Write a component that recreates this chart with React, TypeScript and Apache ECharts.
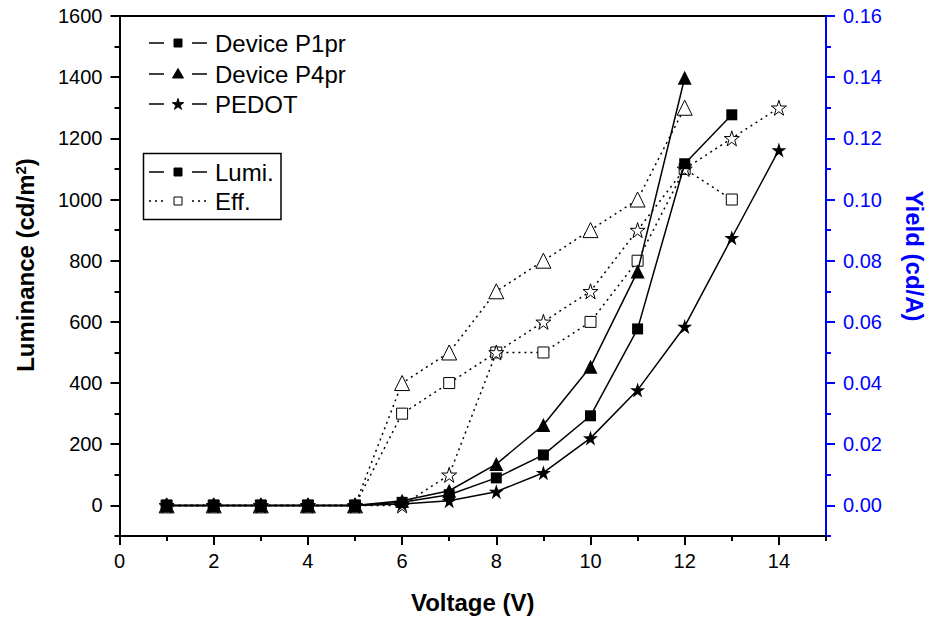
import React, { useEffect, useRef } from "react";
import * as echarts from "echarts";

// Applied voltage (V)
const voltage = [1, 2, 3, 4, 5, 6, 7, 8, 9, 10, 11, 12, 13, 14];

// Luminance (cd/m²)
const p1prLumi = [0, 0, 0, 0, 0, 10, 35, 90, 165, 293, 577, 1117, 1277];
const p4prLumi = [0, 0, 0, 0, 0, 15, 48, 135, 263, 453, 765, 1398];
const pedotLumi = [0, 0, 0, 0, 0, 5, 15, 45, 107, 220, 377, 585, 875, 1162];

// Yield (cd/A)
const p1prEff = [0, 0, 0, 0, 0, 0.03, 0.04, 0.05, 0.05, 0.06, 0.08, 0.11, 0.1];
const p4prEff = [0, 0, 0, 0, 0, 0.04, 0.05, 0.07, 0.08, 0.09, 0.1, 0.13];
const pedotEff = [0, 0, 0, 0, 0, 0, 0.01, 0.05, 0.06, 0.07, 0.09, 0.11, 0.12, 0.13];

// Axis ticks
const xMajorTicks = [0, 2, 4, 6, 8, 10, 12, 14];
const xMinorTicks = [1, 3, 5, 7, 9, 11, 13, 15];
const lumiMajorTicks = [0, 200, 400, 600, 800, 1000, 1200, 1400, 1600];
const lumiMinorTicks = [-100, 100, 300, 500, 700, 900, 1100, 1300, 1500];
const effMajorTicks = [0, 0.02, 0.04, 0.06, 0.08, 0.1, 0.12, 0.14, 0.16];
const effMinorTicks = [-0.01, 0.01, 0.03, 0.05, 0.07, 0.09, 0.11, 0.13, 0.15];

const FONT = "'Liberation Sans', Arial, Helvetica, sans-serif";
const BLUE = "#0000ff";
const STAR =
  "path://M50 0 L61.2 34.5 L97.6 34.5 L68.2 55.9 L79.4 90.5 L50 69.1 L20.6 90.5 L31.8 55.9 L2.4 34.5 L38.8 34.5 Z";

const pairs = (vals: number[]) => vals.map((v, i) => [voltage[i], v]);

function starPoints(cx: number, cy: number, r: number) {
  const pts: number[][] = [];
  for (let k = 0; k < 10; k++) {
    const a = (-90 + k * 36) * (Math.PI / 180);
    const rr = k % 2 === 0 ? r : r * 0.382;
    pts.push([cx + rr * Math.cos(a), cy + rr * Math.sin(a)]);
  }
  return pts;
}

function legendMarker(kind: string, cx: number, cy: number, filled: boolean) {
  const style = filled
    ? { fill: "#000", stroke: "#000", lineWidth: 1 }
    : { fill: "#fff", stroke: "#000", lineWidth: 1 };
  if (kind === "rect") {
    return { type: "rect", shape: { x: cx - 4, y: cy - 4, width: 8, height: 8 }, style, z: 10 };
  }
  if (kind === "triangle") {
    return {
      type: "polygon",
      shape: { points: [[cx, cy - 5.5], [cx + 5.5, cy + 4], [cx - 5.5, cy + 4]] },
      style,
      z: 10,
    };
  }
  return { type: "polygon", shape: { points: starPoints(cx, cy + 0.5, 6) }, style, z: 10 };
}

function legendRow(y: number, kind: string, label: string, dotted: boolean, filled: boolean) {
  const lineStyle = {
    stroke: "#000",
    lineWidth: 1.5,
    lineDash: dotted ? [2, 4] : null,
  };
  return [
    { type: "line", shape: { x1: 149, y1: y, x2: 164, y2: y }, style: lineStyle, z: 10 },
    legendMarker(kind, 178, y, filled),
    { type: "line", shape: { x1: 192, y1: y, x2: 207, y2: y }, style: lineStyle, z: 10 },
    {
      type: "text",
      x: 215,
      y,
      style: { text: label, font: `24px ${FONT}`, fill: "#000", verticalAlign: "middle" },
      z: 10,
    },
  ];
}

export default function App() {
  const ref = useRef<HTMLDivElement>(null);

  useEffect(() => {
    if (!ref.current) return;
    const chart = echarts.init(ref.current, null, { renderer: "svg" });

    const gridRect = { left: 119.5, right: 108, top: 16, bottom: 86, containLabel: false };
    const tickLabel = { fontFamily: FONT, fontSize: 20, color: "#000" };
    const nameStyle = {
      fontFamily: FONT,
      fontSize: 24,
      fontWeight: "bold",
      align: "center",
      verticalAlign: "middle",
    };

    const lumiSeries = (name: string, vals: number[], symbol: string, size: number) => ({
      name,
      type: "line",
      xAxisIndex: 0,
      yAxisIndex: 0,
      data: pairs(vals),
      symbol,
      symbolSize: size,
      lineStyle: { color: "#000", width: 1.5 },
      itemStyle: { color: "#000", borderColor: "#000", borderWidth: 0 },
      z: 3,
    });
    const effSeries = (name: string, vals: number[], symbol: string, size: number) => ({
      name,
      type: "line",
      xAxisIndex: 0,
      yAxisIndex: 1,
      data: pairs(vals),
      symbol,
      symbolSize: size,
      lineStyle: { color: "#000", width: 1.5, type: [2, 4] },
      itemStyle: { color: "#fff", borderColor: "#000", borderWidth: 1 },
      z: 2,
    });

    chart.setOption({
      animation: false,
      backgroundColor: "#fff",
      grid: [gridRect, gridRect],
      xAxis: [
        {
          type: "value",
          gridIndex: 0,
          position: "bottom",
          min: 0,
          max: 15,
          axisLine: { show: true, onZero: false, lineStyle: { color: "#000", width: 2 } },
          axisTick: { show: true, customValues: xMajorTicks, length: 9, lineStyle: { color: "#000", width: 2 } },
          axisLabel: { customValues: xMajorTicks, margin: 15, ...tickLabel },
          splitLine: { show: false },
          name: "Voltage (V)",
          nameLocation: "middle",
          nameGap: 54,
          nameTextStyle: { fontFamily: FONT, fontSize: 24, fontWeight: "bold", color: "#000" },
        },
        {
          type: "value",
          gridIndex: 0,
          position: "top",
          min: 0,
          max: 15,
          axisLine: { show: true, onZero: false, lineStyle: { color: "#000", width: 2 } },
          axisTick: { show: false },
          axisLabel: { show: false },
          splitLine: { show: false },
        },
        {
          type: "value",
          gridIndex: 1,
          position: "bottom",
          min: 0,
          max: 15,
          axisLine: { show: false, onZero: false },
          axisTick: { show: true, customValues: xMinorTicks, length: 5, lineStyle: { color: "#000", width: 2 } },
          axisLabel: { show: false },
          splitLine: { show: false },
        },
      ],
      yAxis: [
        {
          type: "value",
          gridIndex: 0,
          position: "left",
          min: -100,
          max: 1600,
          axisLine: { show: true, onZero: false, lineStyle: { color: "#000", width: 2 } },
          axisTick: { show: true, customValues: lumiMajorTicks, length: 9, lineStyle: { color: "#000", width: 2 } },
          axisLabel: {
            customValues: lumiMajorTicks,
            margin: 17,
            ...tickLabel,
            formatter: (v: number) => String(Math.round(v)),
          },
          splitLine: { show: false },
        },
        {
          type: "value",
          gridIndex: 0,
          position: "right",
          min: -0.01,
          max: 0.16,
          axisLine: { show: true, onZero: false, lineStyle: { color: BLUE, width: 2 } },
          axisTick: { show: true, customValues: effMajorTicks, length: 9, lineStyle: { color: BLUE, width: 2 } },
          axisLabel: {
            customValues: effMajorTicks,
            margin: 17,
            ...tickLabel,
            color: BLUE,
            formatter: (v: number) => v.toFixed(2),
          },
          splitLine: { show: false },
        },
        {
          type: "value",
          gridIndex: 1,
          position: "left",
          min: -100,
          max: 1600,
          axisLine: { show: false, onZero: false },
          axisTick: { show: true, customValues: lumiMinorTicks, length: 5, lineStyle: { color: "#000", width: 2 } },
          axisLabel: { show: false },
          splitLine: { show: false },
        },
        {
          type: "value",
          gridIndex: 1,
          position: "right",
          min: -0.01,
          max: 0.16,
          axisLine: { show: false, onZero: false },
          axisTick: { show: true, customValues: effMinorTicks, length: 5, lineStyle: { color: BLUE, width: 2 } },
          axisLabel: { show: false },
          splitLine: { show: false },
        },
      ],
      series: [
        lumiSeries("Device P1pr", p1prLumi, "rect", 11),
        lumiSeries("Device P4pr", p4prLumi, "triangle", 14),
        lumiSeries("PEDOT", pedotLumi, STAR, 15),
        effSeries("Device P1pr Eff.", p1prEff, "rect", 11),
        effSeries("Device P4pr Eff.", p4prEff, "triangle", 15),
        effSeries("PEDOT Eff.", pedotEff, STAR, 15),
      ],
      graphic: [
        // vertical axis titles
        {
          type: "text",
          x: 25,
          y: 265,
          rotation: Math.PI / 2,
          style: {
            text: "Luminance (cd/m{sup|2})",
            ...nameStyle,
            fill: "#000",
            rich: {
              sup: { fontFamily: FONT, fontSize: 15, fontWeight: "bold", fill: "#000", verticalAlign: "top" },
            },
          },
          z: 10,
        },
        {
          type: "text",
          x: 914,
          y: 256,
          rotation: -Math.PI / 2,
          style: { text: "Yield (cd/A)", ...nameStyle, fill: BLUE },
          z: 10,
        },
        ...legendRow(43, "rect", "Device P1pr", false, true),
        ...legendRow(74, "triangle", "Device P4pr", false, true),
        ...legendRow(104, "star", "PEDOT", false, true),
        {
          type: "rect",
          shape: { x: 143.5, y: 153.5, width: 137.5, height: 66 },
          style: { fill: "none", stroke: "#000", lineWidth: 1.5 },
          z: 10,
        },
        ...legendRow(172, "rect", "Lumi.", false, true),
        ...legendRow(201, "rect", "Eff.", true, false),
      ],
    });

    return () => chart.dispose();
  }, []);

  return (
    <div
      ref={ref}
      style={{ position: "fixed", left: 0, top: 0, width: 934, height: 622, background: "#fff" }}
    />
  );
}
